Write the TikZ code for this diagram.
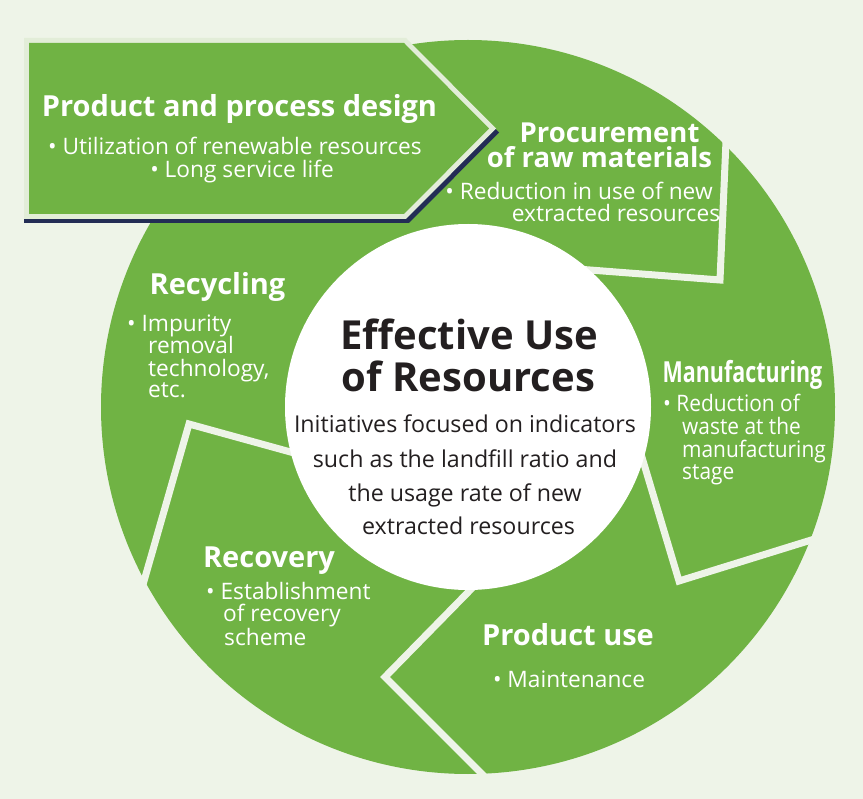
\documentclass[tikz,border=0pt]{standalone}
\usepackage{fontspec}
\setmainfont{Open Sans}
\usepackage{graphicx}
\definecolor{bg}{HTML}{EEF4E8}
\definecolor{ringgreen}{HTML}{70B344}
\definecolor{boxedge}{HTML}{E2EDD8}
\definecolor{navy}{HTML}{232D55}
\definecolor{ink}{HTML}{231F20}
\begin{document}
\begin{tikzpicture}[x=1pt,y=-1pt,
  head/.style={text=white, font=\fontsize{29}{30}\selectfont\bfseries, inner sep=0pt, anchor=base},
  bodyc/.style={text=white, font=\fontsize{22.7}{24}\selectfont, inner sep=0pt, anchor=base},
  bodyl/.style={bodyc, anchor=base west},
  ctitle/.style={text=ink, font=\fontsize{40}{42}\selectfont\bfseries, inner sep=0pt, anchor=base},
  cbody/.style={text=ink, font=\fontsize{23.2}{25}\selectfont, inner sep=0pt, anchor=base},
  sepline/.style={draw=bg, line width=7pt, line join=miter, miter limit=20}]
\path[fill=bg] (0,0) rectangle (863,799);
\useasboundingbox (0,0) rectangle (863,799);
\coordinate (O) at (468,407);
% ring
\fill[ringgreen] (O) circle[radius=367];
% separators
\draw[sepline] (577,269) -- (720,280) -- (727,118);
\draw[sepline] (635,434) -- (679,581) -- (850,528);
\draw[sepline] (483,577) -- (385,677) -- (500,792);
\draw[sepline] (305,456) -- (189,424) -- (138,602);
% centre disc
\fill[white] (O) circle[radius=183];
% design box
\fill[navy] (24,42) -- (409,42) -- (499,132.5) -- (409,223) -- (24,223) -- cycle;
\fill[boxedge] (24,38) -- (406,38) -- (496,128.5) -- (406,219) -- (24,219) -- cycle;
\fill[ringgreen] (29,43) -- (404,43) -- (489,128.5) -- (404,214) -- (29,214) -- cycle;
% design texts
\node[head] (dh) at (239.5,117) {Product and process design};
\node[bodyc] (d1) at (235,155) {• Utilization of renewable resources};
\node[bodyc] (d2) at (242,178) {• Long service life};
% procurement
\node[head, font=\fontsize{27.5}{28}\selectfont\bfseries] (ph1) at (609.5,143) {Procurement};
\node[head, font=\fontsize{27.5}{28}\selectfont\bfseries] (ph2) at (599.5,168) {of raw materials};
\node[bodyc] (p1) at (579,200) {• Reduction in use of new};
\node[bodyc] (p2) at (616,222) {extracted resources};
% manufacturing
\node[head] (mh) at (742.5,383) {\scalebox{0.74}[1]{Manufacturing}};
\node[bodyl] (m1) at (663,412) {\scalebox{0.92}[1]{• Reduction of}};
\node[bodyl] (m2) at (682,435) {\scalebox{0.92}[1]{waste at the}};
\node[bodyl] (m3) at (682,458) {\scalebox{0.92}[1]{manufacturing}};
\node[bodyl] (m4) at (682,480) {\scalebox{0.92}[1]{stage}};
% product use
\node[head] (uh) at (568,645) {Product use};
\node[bodyc] (u1) at (569,687) {• Maintenance};
% recovery
\node[head] (vh) at (269,568) {Recovery};
\node[bodyl] (v1) at (206,600) {• Establishment};
\node[bodyl] (v2) at (223,622) {of recovery};
\node[bodyl] (v3) at (224,645) {scheme};
% recycling
\node[head] (rh) at (217.5,295) {Recycling};
\node[bodyl] (r1) at (127,332) {• Impurity};
\node[bodyl] (r2) at (148,354) {removal};
\node[bodyl] (r3) at (148,377) {technology,};
\node[bodyl] (r4) at (148,398) {etc.};
% centre
\node[ctitle] (c1) at (469,350) {Effective Use};
\node[ctitle] (c2) at (468.5,392) {of Resources};
\node[cbody] (c3) at (465,433) {Initiatives focused on indicators};
\node[cbody] (c4) at (465,468) {such as the landfill ratio and};
\node[cbody] (c5) at (465,502) {the usage rate of new};
\node[cbody] (c6) at (468.5,535) {extracted resources};
\end{tikzpicture}
\end{document}
